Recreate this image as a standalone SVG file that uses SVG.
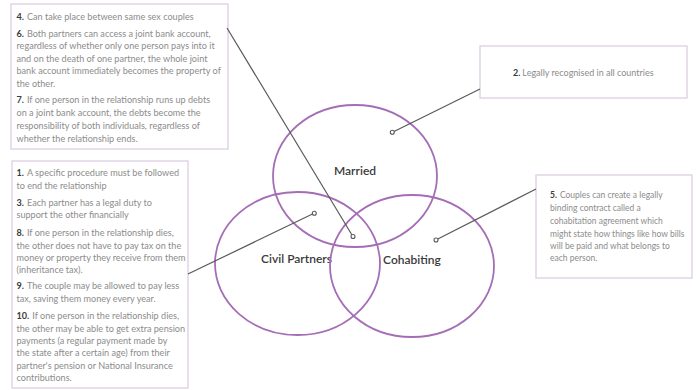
<svg xmlns="http://www.w3.org/2000/svg" width="696" height="390" viewBox="0 0 696 390">
<style>
.box{fill:#fff;stroke:#e2d3e6;stroke-width:1.5}
.t{font-family:Lato,"Open Sans","Liberation Sans",sans-serif;font-size:9.1px;fill:#8c8c8c}
.s{font-size:8.5px}
.m{font-size:9px}
.n{font-weight:bold;fill:#3c3c3c}
.lbl{font-family:Lato,"Open Sans","Liberation Sans",sans-serif;font-size:12px;fill:#3a3a3a;text-anchor:middle;font-weight:600}
.ell{fill:none;stroke:#a56db6;stroke-width:1.8}
.ln{stroke:#5a5a5a;stroke-width:1.2;fill:none}
.dot{fill:#fff;stroke:#5a5a5a;stroke-width:1.1}
</style>
<rect width="696" height="390" fill="#fff"/>
<g id="box-top-left">
<rect class="box" x="11" y="4" width="217" height="145"/>
<text class="t" x="16.5" y="19.5"><tspan class="n">4.</tspan><tspan dx="3">Can take place between same sex couples</tspan></text>
<text class="t" x="16.5" y="36.5"><tspan class="n">6.</tspan><tspan dx="3">Both partners can access a joint bank account,</tspan></text>
<text class="t" x="16.5" y="49">regardless of whether only one person pays into it</text>
<text class="t" x="16.5" y="61.5">and on the death of one partner, the whole joint</text>
<text class="t" x="16.5" y="74">bank account immediately becomes the property of</text>
<text class="t" x="16.5" y="86.5">the other.</text>
<text class="t" x="16.5" y="102.5"><tspan class="n">7.</tspan><tspan dx="3">If one person in the relationship runs up debts</tspan></text>
<text class="t" x="16.5" y="115.5">on a joint bank account, the debts become the</text>
<text class="t" x="16.5" y="128.5">responsibility of both individuals, regardless of</text>
<text class="t" x="16.5" y="141.5">whether the relationship ends.</text>
</g>
<g id="box-left">
<rect class="box" x="12" y="161" width="176" height="227"/>
<text class="t" x="16.5" y="176"><tspan class="n">1.</tspan><tspan dx="3">A specific procedure must be followed</tspan></text>
<text class="t" x="16.5" y="188.5">to end the relationship</text>
<text class="t" x="16.5" y="205.5"><tspan class="n">3.</tspan><tspan dx="3">Each partner has a legal duty to</tspan></text>
<text class="t" x="16.5" y="218">support the other financially</text>
<text class="t" x="16.5" y="236"><tspan class="n">8.</tspan><tspan dx="3">If one person in the relationship dies,</tspan></text>
<text class="t" x="16.5" y="248.5">the other does not have to pay tax on the</text>
<text class="t" x="16.5" y="260.5">money or property they receive from them</text>
<text class="t" x="16.5" y="272.5">(inheritance tax).</text>
<text class="t" x="16.5" y="289"><tspan class="n">9.</tspan><tspan dx="3">The couple may be allowed to pay less</tspan></text>
<text class="t" x="16.5" y="302">tax, saving them money every year.</text>
<text class="t" x="16.5" y="319"><tspan class="n">10.</tspan><tspan dx="3">If one person in the relationship dies,</tspan></text>
<text class="t" x="16.5" y="331.5">the other may be able to get extra pension</text>
<text class="t" x="16.5" y="343.5">payments (a regular payment made by</text>
<text class="t" x="16.5" y="355.5">the state after a certain age) from their</text>
<text class="t" x="16.5" y="368.5">partner's pension or National Insurance</text>
<text class="t" x="16.5" y="380.5">contributions.</text>
</g>
<g id="box-top-right">
<rect class="box" x="480" y="46" width="207" height="52"/>
<text class="t m" x="513" y="75.5"><tspan class="n">2.</tspan><tspan dx="2">Legally recognised in all countries</tspan></text>
</g>
<g id="box-right">
<rect class="box" x="536" y="175" width="156" height="103"/>
<text class="t s" x="550" y="197.5"><tspan class="n">5.</tspan><tspan dx="3">Couples can create a legally</tspan></text>
<text class="t s" x="550" y="210.5">binding contract called a</text>
<text class="t s" x="550" y="224">cohabitation agreement which</text>
<text class="t s" x="550" y="236.5">might state how things like how bills</text>
<text class="t s" x="550" y="248.5">will be paid and what belongs to</text>
<text class="t s" x="550" y="260.5">each person.</text>
</g>
<g id="married">
<ellipse class="ell" cx="355" cy="176" rx="82" ry="71"/>
<text class="lbl" x="355" y="175">Married</text>
</g>
<g id="civil-partners">
<ellipse class="ell" cx="297.5" cy="263.5" rx="82.5" ry="71.5"/>
<text class="lbl" x="296.5" y="262.5">Civil Partners</text>
</g>
<g id="cohabiting">
<ellipse class="ell" cx="412" cy="266" rx="82" ry="71"/>
<text class="lbl" x="412" y="264">Cohabiting</text>
</g>
<g id="connectors">
<line class="ln" x1="227" y1="28" x2="352" y2="235"/>
<circle class="dot" cx="353" cy="236.5" r="2"/>
<line class="ln" x1="480" y1="89" x2="394" y2="131.5"/>
<circle class="dot" cx="392.3" cy="132.3" r="2"/>
<line class="ln" x1="188" y1="274" x2="312.5" y2="214"/>
<circle class="dot" cx="314.3" cy="213.3" r="2"/>
<line class="ln" x1="536" y1="189" x2="437.8" y2="239"/>
<circle class="dot" cx="436" cy="240" r="2"/>
</g>
</svg>
